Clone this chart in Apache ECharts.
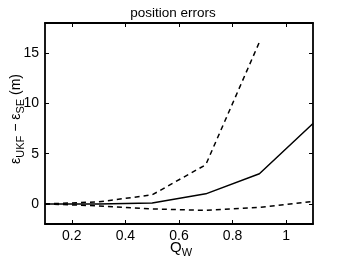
<!DOCTYPE html>
<html><head><meta charset="utf-8">
<script src="https://cdn.jsdelivr.net/npm/echarts@6/dist/echarts.min.js"></script>
<style>html,body{margin:0;padding:0;background:#fff}#c{width:346px;height:260px}</style>
</head><body><div id="c"></div>
<script>
var qw = [0.1, 0.3, 0.5, 0.7, 0.9, 1.1];
var meanErr = [0, 0, 0.1, 1, 3, 8];
var upperErr = [0, 0.2, 0.9, 3.9, 16.1, null];
var lowerErr = [0, -0.2, -0.5, -0.65, -0.35, 0.25];
var xTicks = [0.2, 0.4, 0.6, 0.8, 1.0];
var yTicks = [0, 5, 10, 15];

function pairs(vals){ var out=[]; for(var i=0;i<qw.length;i++){ if(vals[i]!==null) out.push([qw[i], vals[i]]); } return out; }
var font = 'Liberation Sans, Arial, sans-serif';
var chart = echarts.init(document.getElementById('c'), null, {renderer:'canvas'});
var axLine = {show:true, onZero:false, lineStyle:{color:'#000', width:1.8}};
function xa(pos, labels){
  return {type:'value', position:pos, min:0.1, max:1.1,
    axisLine:axLine, splitLine:{show:false},
    axisTick:{show:true, inside:true, length:4, customValues:xTicks, lineStyle:{color:'#000',width:1}},
    axisLabel:{show:labels, customValues:xTicks, color:'#000', fontSize:14, fontFamily:font, margin:5,
      formatter:function(v){return String(Math.round(v*10)/10);}}};
}
function ya(pos, labels){
  return {type:'value', position:pos, min:-2, max:18,
    axisLine:axLine, splitLine:{show:false},
    axisTick:{show:true, inside:true, length:4, customValues:yTicks, lineStyle:{color:'#000',width:1}},
    axisLabel:{show:labels, customValues:yTicks, color:'#000', fontSize:14, fontFamily:font, margin:6}};
}
chart.setOption({
  animation:false,
  backgroundColor:'#fff',
  grid:{left:45, right:33, top:23, bottom:36, containLabel:false},
  title:{text:'position errors', left:'center', top:1, textStyle:{fontSize:13.5, fontWeight:'normal', color:'#000', fontFamily:font}},
  xAxis:[xa('bottom', true), xa('top', false)],
  yAxis:[ya('left', true), ya('right', false)],
  series:[
    {type:'line', data:pairs(meanErr), symbol:'none', lineStyle:{color:'#000', width:1.5}},
    {type:'line', data:pairs(upperErr), symbol:'none', lineStyle:{color:'#000', width:1.5, type:[5,4]}},
    {type:'line', data:pairs(lowerErr), symbol:'none', lineStyle:{color:'#000', width:1.5, type:[5,4]}}
  ],
  graphic:[
    {type:'text', x:170, y:238, style:{text:'{a|Q}{s|W}', rich:{
      a:{fontSize:15, fontFamily:font, fill:'#000'},
      s:{fontSize:11, fontFamily:font, fill:'#000', padding:[9,0,0,0]}}, fill:'#000'}},
    {type:'text', x:6, y:164, rotation:Math.PI/2, style:{text:'{a|ε}{s|UKF}{a| − ε}{s|SE}{a| (m)}', rich:{
      a:{fontSize:14, fontFamily:font, fill:'#000'},
      s:{fontSize:11, fontFamily:font, fill:'#000', padding:[9,0,0,0]}}}}
  ]
});
</script></body></html>
